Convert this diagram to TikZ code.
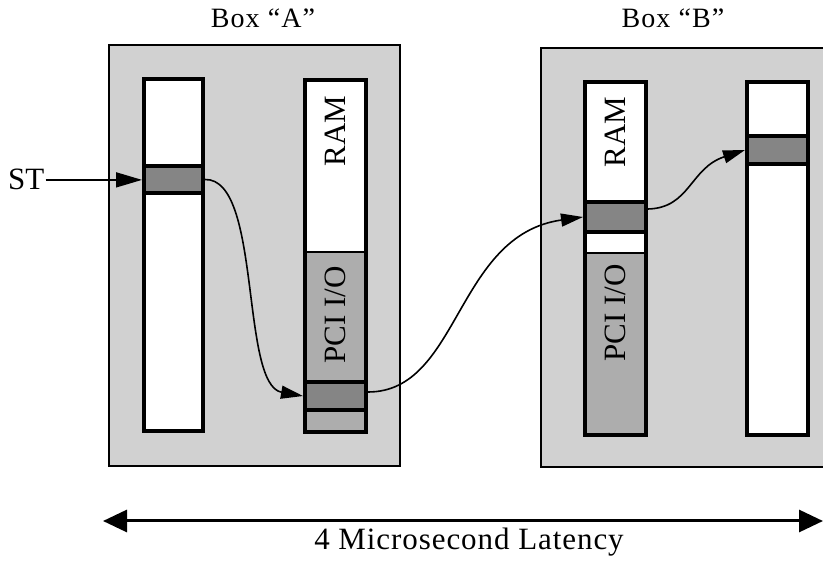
\documentclass[tikz,border=0pt]{standalone}
\usepackage{fontspec}
\setmainfont{Liberation Serif}
\newfontfamily\ttlfont[LetterSpace=4]{Liberation Serif}
\newfontfamily\capfont[LetterSpace=3]{Liberation Serif}
\usetikzlibrary{arrows.meta}
\definecolor{bgray}{gray}{0.82}
\definecolor{pcigray}{gray}{0.68}
\definecolor{darkgray}{gray}{0.52}
\begin{document}
\begin{tikzpicture}[x=1pt,y=-1pt,
  boxbg/.style={draw=black, line width=2pt, fill=bgray, inner sep=0pt},
  barframe/.style={draw=black, line width=4pt, inner sep=0pt},
  cellbox/.style={draw=black, line width=4pt, fill=darkgray, inner sep=0pt},
  lbl/.style={font=\fontsize{31}{31}\selectfont, inner sep=0pt},
  ttl/.style={font=\ttlfont\fontsize{28}{28}\selectfont, inner sep=0pt},
  flow/.style={line width=1.6pt, -{Triangle[length=22pt,width=13pt]}},
  dbl/.style={line width=3pt, {Triangle[length=24pt,width=22pt]}-{Triangle[length=24pt,width=22pt]}}
]
\useasboundingbox (0,0) rectangle (823,561);
\clip (0,0) rectangle (823,561);

% outer boxes
\node[boxbg, minimum width=291pt, minimum height=421pt] (boxA) at (254.5,255.5) {};
\node[boxbg, minimum width=300pt, minimum height=419pt] (boxB) at (691,257.5) {};

% titles
\node[ttl, anchor=base] (tA) at (263,28) {Box “A”};
\node[ttl, anchor=base] (tB) at (673,28) {Box “B”};

% --- Box A left bar
\fill[white] (144,79) rectangle (203,431);
\node[cellbox, minimum width=59pt, minimum height=27pt] (aLc) at (173.5,179.5) {};
\node[barframe, minimum width=59pt, minimum height=352pt] (aL) at (173.5,255) {};

% --- Box A RAM / PCI bar
\fill[white] (305,80) rectangle (366,252);
\fill[pcigray] (305,252) rectangle (366,432);
\draw[line width=1.5pt] (305,252) -- (366,252);
\node[cellbox, minimum width=61pt, minimum height=28pt] (aRc) at (335.5,396) {};
\node[barframe, minimum width=61pt, minimum height=352pt] (aR) at (335.5,256) {};
\node[lbl, rotate=90] (ramA) at (335.5,131) {RAM};
\node[lbl, rotate=90] (pciA) at (335.5,315) {PCI I/O};

% --- Box B RAM / PCI bar
\fill[white] (585,82) rectangle (646,253);
\fill[pcigray] (585,253) rectangle (646,435);
\draw[line width=1.5pt] (585,253) -- (646,253);
\node[cellbox, minimum width=61pt, minimum height=30pt] (bRc) at (615.5,217) {};
\node[barframe, minimum width=61pt, minimum height=353pt] (bR) at (615.5,258.5) {};
\node[lbl, rotate=90] (ramB) at (615.5,132) {RAM};
\node[lbl, rotate=90] (pciB) at (615.5,313) {PCI I/O};

% --- Box B right bar
\fill[white] (747,82) rectangle (808,435);
\node[cellbox, minimum width=61pt, minimum height=28pt] (bSc) at (777.5,150) {};
\node[barframe, minimum width=61pt, minimum height=353pt] (bS) at (777.5,258.5) {};

% ST input
\node[lbl, anchor=base west] (st) at (8,190) {ST};
\draw[line width=1.6pt, -{Triangle[length=26pt,width=15pt]}] ([xshift=1pt]st.east) -- (aLc.west |- st.east);

% flow arrows
\draw[flow] (aLc.east) .. controls (262,178) and (240,385) .. (aRc.west);
\draw[flow] ([yshift=4pt]aRc.east) .. controls (460,392) and (455,235) .. (bRc.west);
\draw[flow] ([yshift=8pt]bRc.east) .. controls (690,208) and (690,168) .. (bSc.west);

% latency
\coordinate (latL) at (103,521);
\coordinate (latR) at (823,521);
\draw[dbl] (latL) -- (latR);
\node[font=\capfont\fontsize{31}{31}\selectfont, inner sep=0pt, anchor=base] (lat) at (469,550) {4 Microsecond Latency};
\end{tikzpicture}
\end{document}
